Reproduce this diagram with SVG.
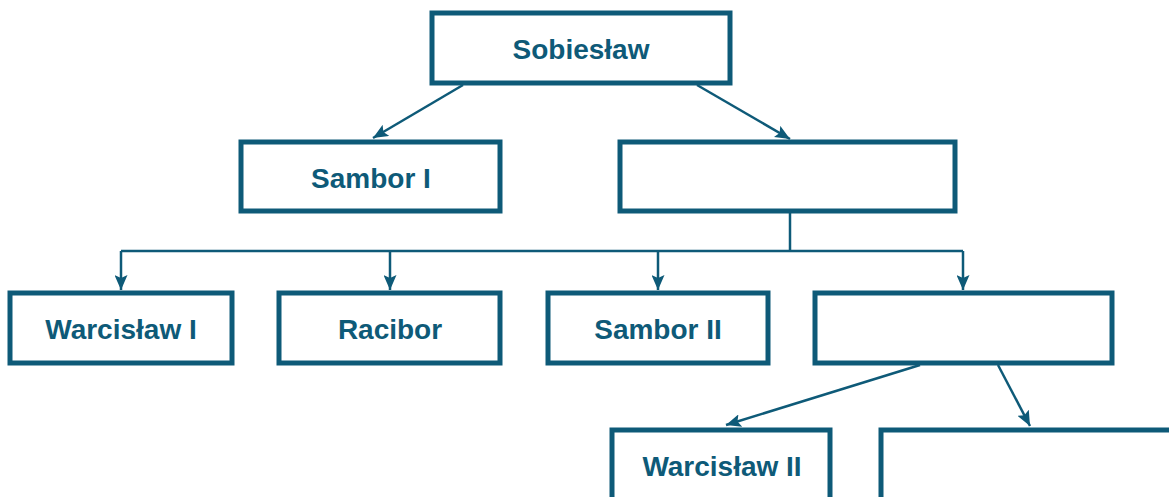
<svg xmlns="http://www.w3.org/2000/svg" width="1169" height="497" viewBox="0 0 1169 497">
<defs>
<style>
.box{fill:#fff;stroke:#0e5a78;stroke-width:5}
.lbl{font-family:"Liberation Sans",Arial,sans-serif;font-weight:bold;font-size:28px;fill:#0e5a78;text-anchor:middle;dominant-baseline:central}
.con{fill:none;stroke:#0e5a78;stroke-width:2.5}
</style>
<marker id="ah" viewBox="0 0 15 13" refX="15" refY="6.5" markerWidth="15" markerHeight="13" markerUnits="userSpaceOnUse" orient="auto">
<path d="M0,0 L15,6.5 L0,13 L3,6.5 Z" fill="#0e5a78"/>
</marker>
</defs>
<rect width="1169" height="497" fill="#fff"/>
<g id="connectors">
<line class="con" x1="463" y1="85" x2="373" y2="138" marker-end="url(#ah)"/>
<line class="con" x1="697" y1="85" x2="790" y2="139" marker-end="url(#ah)"/>
<polyline class="con" points="790,213 790,251"/>
<polyline class="con" points="121,251 963,251"/>
<polyline class="con" points="121,251 121,290" marker-end="url(#ah)"/>
<polyline class="con" points="390,251 390,290" marker-end="url(#ah)"/>
<polyline class="con" points="658,251 658,290" marker-end="url(#ah)"/>
<polyline class="con" points="963,251 963,290" marker-end="url(#ah)"/>
<line class="con" x1="920" y1="365" x2="726" y2="425" marker-end="url(#ah)"/>
<line class="con" x1="998" y1="365" x2="1030" y2="426" marker-end="url(#ah)"/>
</g>
<g id="n-sobieslaw"><rect class="box" x="432" y="13" width="298" height="70"/><text class="lbl" x="581" y="49">Sobiesław</text></g>
<g id="n-sambor1"><rect class="box" x="241" y="142" width="259" height="69"/><text class="lbl" x="371" y="178">Sambor I</text></g>
<g id="n-empty1"><rect class="box" x="620" y="142" width="335" height="69"/></g>
<g id="n-warcislaw1"><rect class="box" x="10" y="293" width="222" height="70"/><text class="lbl" x="121" y="329">Warcisław I</text></g>
<g id="n-racibor"><rect class="box" x="279" y="293" width="221" height="70"/><text class="lbl" x="390" y="329">Racibor</text></g>
<g id="n-sambor2"><rect class="box" x="548" y="293" width="220" height="70"/><text class="lbl" x="658" y="329">Sambor II</text></g>
<g id="n-empty2"><rect class="box" x="815" y="293" width="297" height="70"/></g>
<g id="n-warcislaw2"><rect class="box" x="612" y="430" width="218" height="80"/><text class="lbl" x="722" y="466">Warcisław II</text></g>
<g id="n-empty3"><rect class="box" x="881" y="430" width="300" height="80"/></g>
</svg>
